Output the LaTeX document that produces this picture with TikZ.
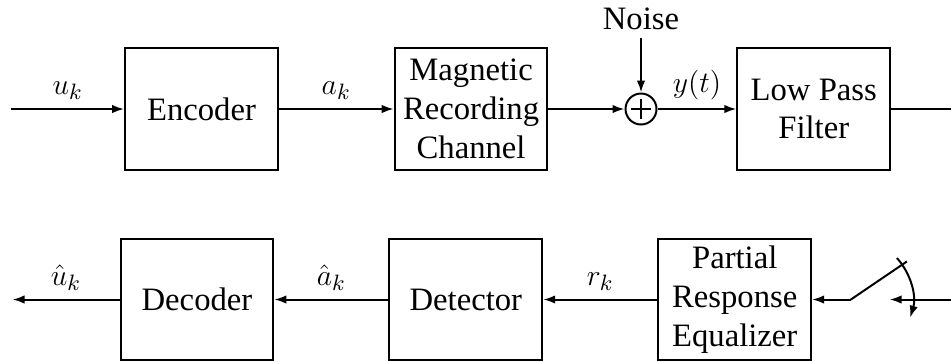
\documentclass[tikz,border=0pt]{standalone}
\usepackage{fontspec}
\setmainfont{Liberation Serif}
\usetikzlibrary{arrows.meta,positioning,calc}

\begin{document}
\begin{tikzpicture}[
  box/.style={rectangle, draw, minimum width=2.17cm, minimum height=1.73cm, align=center, font=\fontsize{13.2}{15.7}\selectfont, line width=0.8pt, inner sep=2pt},
  adder/.style={circle, draw, line width=0.8pt, minimum size=0.44cm, inner sep=0pt,
    path picture={\draw[line width=0.8pt] ([xshift=-0.145cm]path picture bounding box.center) -- ([xshift=0.145cm]path picture bounding box.center)
      ([yshift=-0.145cm]path picture bounding box.center) -- ([yshift=0.145cm]path picture bounding box.center);}},
  arr/.style={-{Latex[length=1.7mm,width=1.2mm]}, line width=0.8pt},
  wire/.style={line width=0.8pt},
  lbl/.style={above=0pt, font=\fontsize{13.2}{15}\selectfont}
]
\useasboundingbox (0,0) rectangle (13.504,-5.140);

% write path
\node[box] (enc) at (2.861,-1.548) {Encoder};
\node[box, right=1.63cm of enc] (chan) {Magnetic\\Recording\\Channel};
\node[adder, right=1.08cm of chan] (sum) {};
\node[box, right=1.12cm of sum] (lpf) {Low Pass\\Filter};
\node[above=0.77cm of sum, font=\fontsize{13.2}{15}\selectfont] (noise) {Noise};

% read path
\node[box] (dec) at (2.797,-4.253) {Decoder};
\node[box, right=1.62cm of dec] (det) {Detector};
\node[box, right=1.62cm of det] (eq) {Partial\\Response\\Equalizer};

\coordinate[left=1.6cm of enc] (uin);
\coordinate[right=0.94cm of lpf] (yout);
\coordinate[left=1.52cm of dec] (uout);
\coordinate[right=0.55cm of eq] (swp);
\coordinate[right=1.1cm of eq] (swin);
\coordinate[right=2.03cm of eq] (rin);

\draw[arr] (uin) -- node[lbl]{$u_k$} (enc);
\draw[arr] (enc) -- node[lbl]{$a_k$} (chan);
\draw[arr] (chan) -- (sum);
\draw[arr] (noise) -- (sum);
\draw[arr] (sum) -- node[lbl]{$y(t)$} (lpf);
\draw[wire] (lpf) -- (yout);

\draw[arr] (dec) -- node[lbl]{$\hat{u}_k$} (uout);
\draw[arr] (det) -- node[lbl]{$\hat{a}_k$} (dec);
\draw[arr] (eq) -- node[lbl]{$r_k$} (det);

% sampler switch
\draw[arr] (swp) -- (eq);
\draw[wire] (swp) -- ++(0.795,0.54);
\draw[arr] (rin) -- (swin);
\draw[arr] ($(swp)+(42:0.88)$) arc (42:-17:0.88);
\end{tikzpicture}
\end{document}
